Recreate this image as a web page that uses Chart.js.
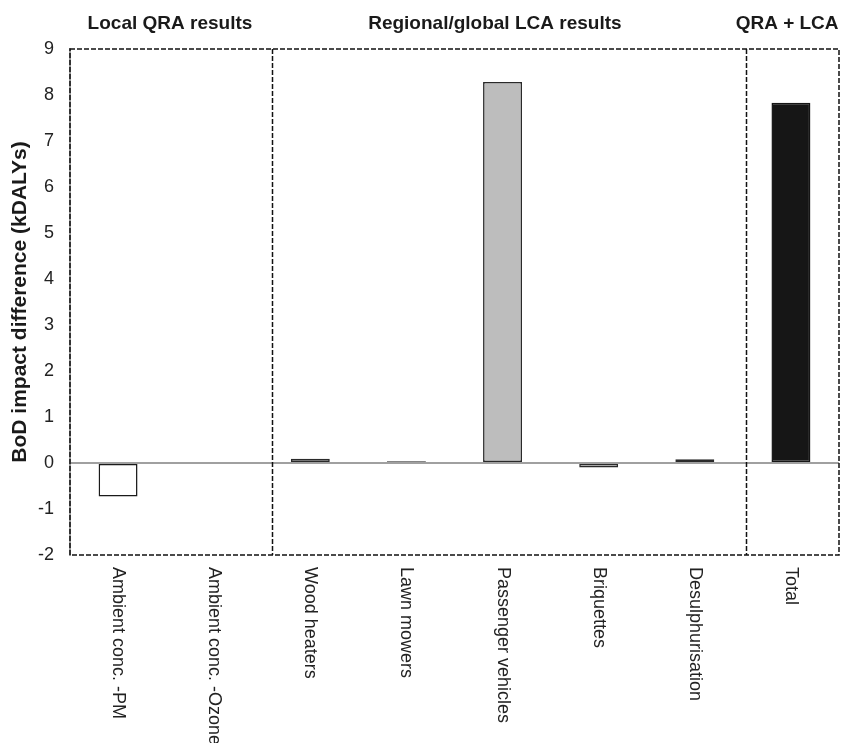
<!DOCTYPE html>
<html>
<head>
<meta charset="utf-8">
<title>BoD impact difference</title>
<script src="https://cdn.jsdelivr.net/npm/chart.js@4.4.1/dist/chart.umd.min.js"></script>
<style>
  html, body { margin: 0; padding: 0; background: #fff; }
  #wrap { width: 841px; height: 743px; position: relative; }
</style>
</head>
<body>
<div id="wrap"><canvas id="chart"></canvas></div>
<script>
const categories = [
  "Ambient conc. -PM",
  "Ambient conc. -Ozone",
  "Wood heaters",
  "Lawn mowers",
  "Passenger vehicles",
  "Briquettes",
  "Desulphurisation",
  "Total"
];
const values = [-0.73, 0, 0.09, 0.04, 8.28, -0.10, 0.08, 7.83];
const barColors = ["#ffffff", "#bdbdbd", "#bdbdbd", "#bdbdbd", "#bdbdbd", "#bdbdbd", "#bdbdbd", "#161616"];
const barBorders = ["#1a1a1a", "#2a2a2a", "#2a2a2a", "#2a2a2a", "#2a2a2a", "#2a2a2a", "#2a2a2a", "#161616"];

const sectionTitles = ["Local QRA results", "Regional/global LCA results", "QRA + LCA"];
// fractional category index where each section title is centred
const sectionCenters = [0.54, 3.92, 6.96];
// fractional category index of the dashed separators
const separators = [1.6, 6.53];

const yMin = -2;
const yMax = 9;
const yTitle = "BoD impact difference (kDALYs)";

const FONT = "Arial, 'Liberation Sans', Helvetica, sans-serif";

const panelPlugin = {
  id: "panels",
  afterDraw(chart) {
    const { ctx, chartArea: a, scales } = chart;
    const x = scales.x;
    ctx.save();

    // dashed frame + separators
    ctx.strokeStyle = "#111";
    ctx.lineWidth = 1.5;
    ctx.setLineDash([5, 2]);
    ctx.strokeRect(a.left, a.top, a.right - a.left, a.bottom - a.top);
    separators.forEach(s => {
      const px = Math.round(x.getPixelForValue(s)) + 0.5;
      ctx.beginPath();
      ctx.moveTo(px, a.top);
      ctx.lineTo(px, a.bottom);
      ctx.stroke();
    });
    ctx.setLineDash([]);

    // section titles
    ctx.fillStyle = "#1a1a1a";
    ctx.font = `bold 19px ${FONT}`;
    ctx.textAlign = "center";
    ctx.textBaseline = "alphabetic";
    sectionTitles.forEach((t, i) => {
      ctx.fillText(t, x.getPixelForValue(sectionCenters[i]), 29);
    });

    // category labels, reading top to bottom
    ctx.font = `18px ${FONT}`;
    ctx.fillStyle = "#222";
    ctx.textAlign = "left";
    ctx.textBaseline = "middle";
    categories.forEach((c, i) => {
      ctx.save();
      ctx.translate(x.getPixelForValue(i), a.bottom + 12);
      ctx.rotate(Math.PI / 2);
      ctx.fillText(c, 0, 0);
      ctx.restore();
    });

    ctx.restore();
  }
};

new Chart(document.getElementById("chart"), {
  type: "bar",
  data: {
    labels: categories,
    datasets: [{
      data: values,
      backgroundColor: barColors,
      borderColor: barBorders,
      borderWidth: 1.5,
      borderSkipped: false,
      categoryPercentage: 1,
      barPercentage: 0.405
    }]
  },
  options: {
    responsive: true,
    maintainAspectRatio: false,
    animation: false,
    layout: { padding: { top: 49, right: 2, left: 0, bottom: 0 } },
    plugins: {
      legend: { display: false },
      tooltip: { enabled: false }
    },
    scales: {
      x: {
        grid: { display: false, drawTicks: false },
        border: { display: false },
        ticks: { display: false },
        afterFit(scale) { scale.height = 188; }
      },
      y: {
        min: yMin,
        max: yMax,
        ticks: {
          stepSize: 1,
          padding: 16,
          color: "#222",
          font: { size: 18, family: FONT }
        },
        grid: {
          drawTicks: false,
          lineWidth: 2,
          color: c => (c.tick && c.tick.value === 0 ? "#a0a0a0" : "rgba(0,0,0,0)")
        },
        border: { display: true, color: "#9a9a9a", width: 2 },
        title: {
          display: true,
          text: yTitle,
          color: "#1a1a1a",
          font: { size: 21, weight: "bold", family: FONT },
          padding: { top: 8, bottom: 0 }
        },
        afterFit(scale) { scale.width = 70; }
      }
    }
  },
  plugins: [panelPlugin]
});
</script>
</body>
</html>
